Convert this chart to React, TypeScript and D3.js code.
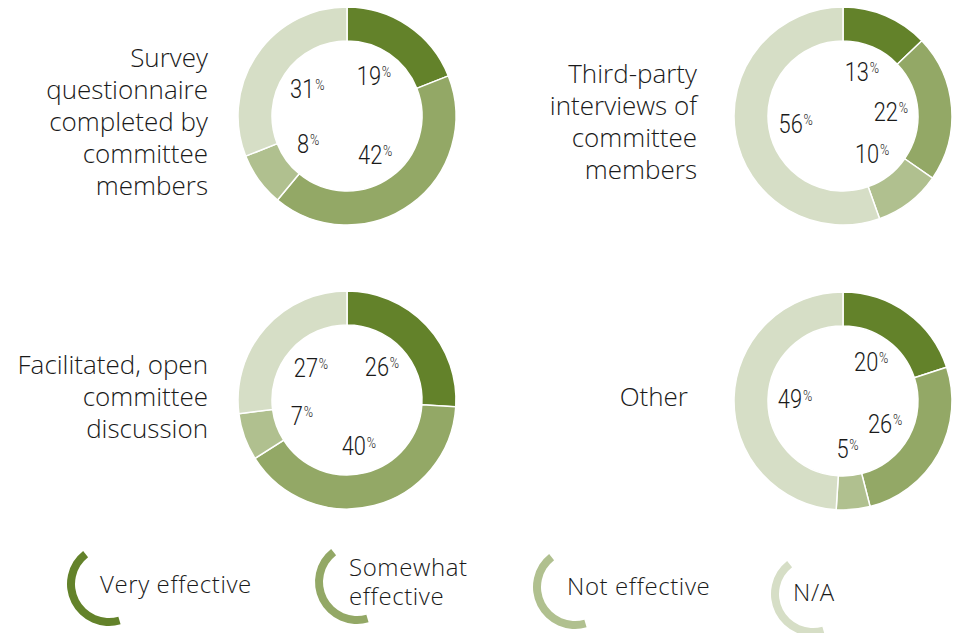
import React from "react";
import * as d3 from "d3";

const categories = ["Very effective", "Somewhat effective", "Not effective", "N/A"];
const colors = ["#63822a", "#93a866", "#b0c08f", "#d6dec6"];

const methodLabels = [
  ["Survey", "questionnaire", "completed by", "committee", "members"],
  ["Third-party", "interviews of", "committee", "members"],
  ["Facilitated, open", "committee", "discussion"],
  ["Other"],
];
const surveyValues = [19, 42, 8, 31];
const thirdPartyValues = [13, 22, 10, 56];
const facilitatedValues = [26, 40, 7, 27];
const otherValues = [20, 26, 5, 49];
const seriesValues = [surveyValues, thirdPartyValues, facilitatedValues, otherValues];

const legendLines = [["Very effective"], ["Somewhat", "effective"], ["Not effective"], ["N/A"]];

// layout
const panelLayout = [
  { cx: 347, cy: 116, lx: 208, ly: 122 },
  { cx: 843, cy: 116, lx: 697, ly: 122 },
  { cx: 347, cy: 400, lx: 208, ly: 397 },
  { cx: 843, cy: 401, lx: 688, ly: 397 },
];
const legendLayout = [
  { ax: 109, ay: 584, tx: 100, ty: 585 },
  { ax: 357, ay: 582, tx: 349, ty: 582 },
  { ax: 575, ay: 587, tx: 567, ty: 587 },
  { ax: 813, ay: 594, tx: 793, ty: 593 },
];

const OUTER = 109;
const INNER = 75;
const LABEL_R = 48;
const FONT = "'Open Sans', 'Noto Sans', sans-serif";
const NUM_FONT = "Roboto, 'Liberation Sans', sans-serif";

export default function App() {
  const pie = d3
    .pie<number>()
    .sort(null)
    .value((d) => d)
    .startAngle(0)
    .endAngle(2 * Math.PI);
  const arc = d3.arc<d3.PieArcDatum<number>>().innerRadius(INNER).outerRadius(OUTER);
  const labelArc = d3.arc<d3.PieArcDatum<number>>().innerRadius(LABEL_R).outerRadius(LABEL_R);
  const legendArc = d3
    .arc()
    .innerRadius(34)
    .outerRadius(42)
    .startAngle((164 * Math.PI) / 180)
    .endAngle((322 * Math.PI) / 180);

  return (
    <svg
      width={956}
      height={633}
      style={{ position: "absolute", left: 0, top: 0, background: "#fff" }}
    >
      {seriesValues.map((vals, i) => {
        const p = panelLayout[i];
        const arcs = pie(vals);
        const lines = methodLabels[i];
        const lh = 32;
        const y0 = p.ly - ((lines.length - 1) * lh) / 2;
        return (
          <g key={i}>
            <g transform={`translate(${p.cx},${p.cy})`}>
              {arcs.map((a, j) => (
                <path
                  key={j}
                  d={arc(a) || ""}
                  fill={colors[j]}
                  stroke="#fff"
                  strokeWidth={1.5}
                />
              ))}
              {arcs.map((a, j) => {
                const [x, y] = labelArc.centroid(a);
                return (
                  <text
                    key={"l" + j}
                    transform={`translate(${x},${y + 9}) scale(0.84,1)`}
                    textAnchor="middle"
                    fontFamily={NUM_FONT}
                    fontWeight={300}
                    fill="#1a1a1a"
                  >
                    <tspan fontSize={26}>{vals[j]}</tspan>
                    <tspan fontSize={15} dy={-8} dx={1}>%</tspan>
                  </text>
                );
              })}
            </g>
            <text
              textAnchor="end"
              fontFamily={FONT}
              fontWeight={300}
              fontSize={26}
              fill="#1a1a1a"
            >
              {lines.map((ln, k) => (
                <tspan key={k} x={p.lx} y={y0 + k * lh} dy="0.35em">
                  {ln}
                </tspan>
              ))}
            </text>
          </g>
        );
      })}
      {categories.map((c, i) => {
        const l = legendLayout[i];
        const lines = legendLines[i];
        const lh = 29;
        const y0 = l.ty - ((lines.length - 1) * lh) / 2;
        return (
          <g key={c}>
            <path
              transform={`translate(${l.ax},${l.ay})`}
              d={(legendArc as any)() || ""}
              fill={colors[i]}
            />
            <text
              fontFamily={FONT}
              fontWeight={300}
              fontSize={24}
              letterSpacing={0.6}
              fill="#1a1a1a"
            >
              {lines.map((ln, k) => (
                <tspan key={k} x={l.tx} y={y0 + k * lh} dy="0.35em">
                  {ln}
                </tspan>
              ))}
            </text>
          </g>
        );
      })}
    </svg>
  );
}
